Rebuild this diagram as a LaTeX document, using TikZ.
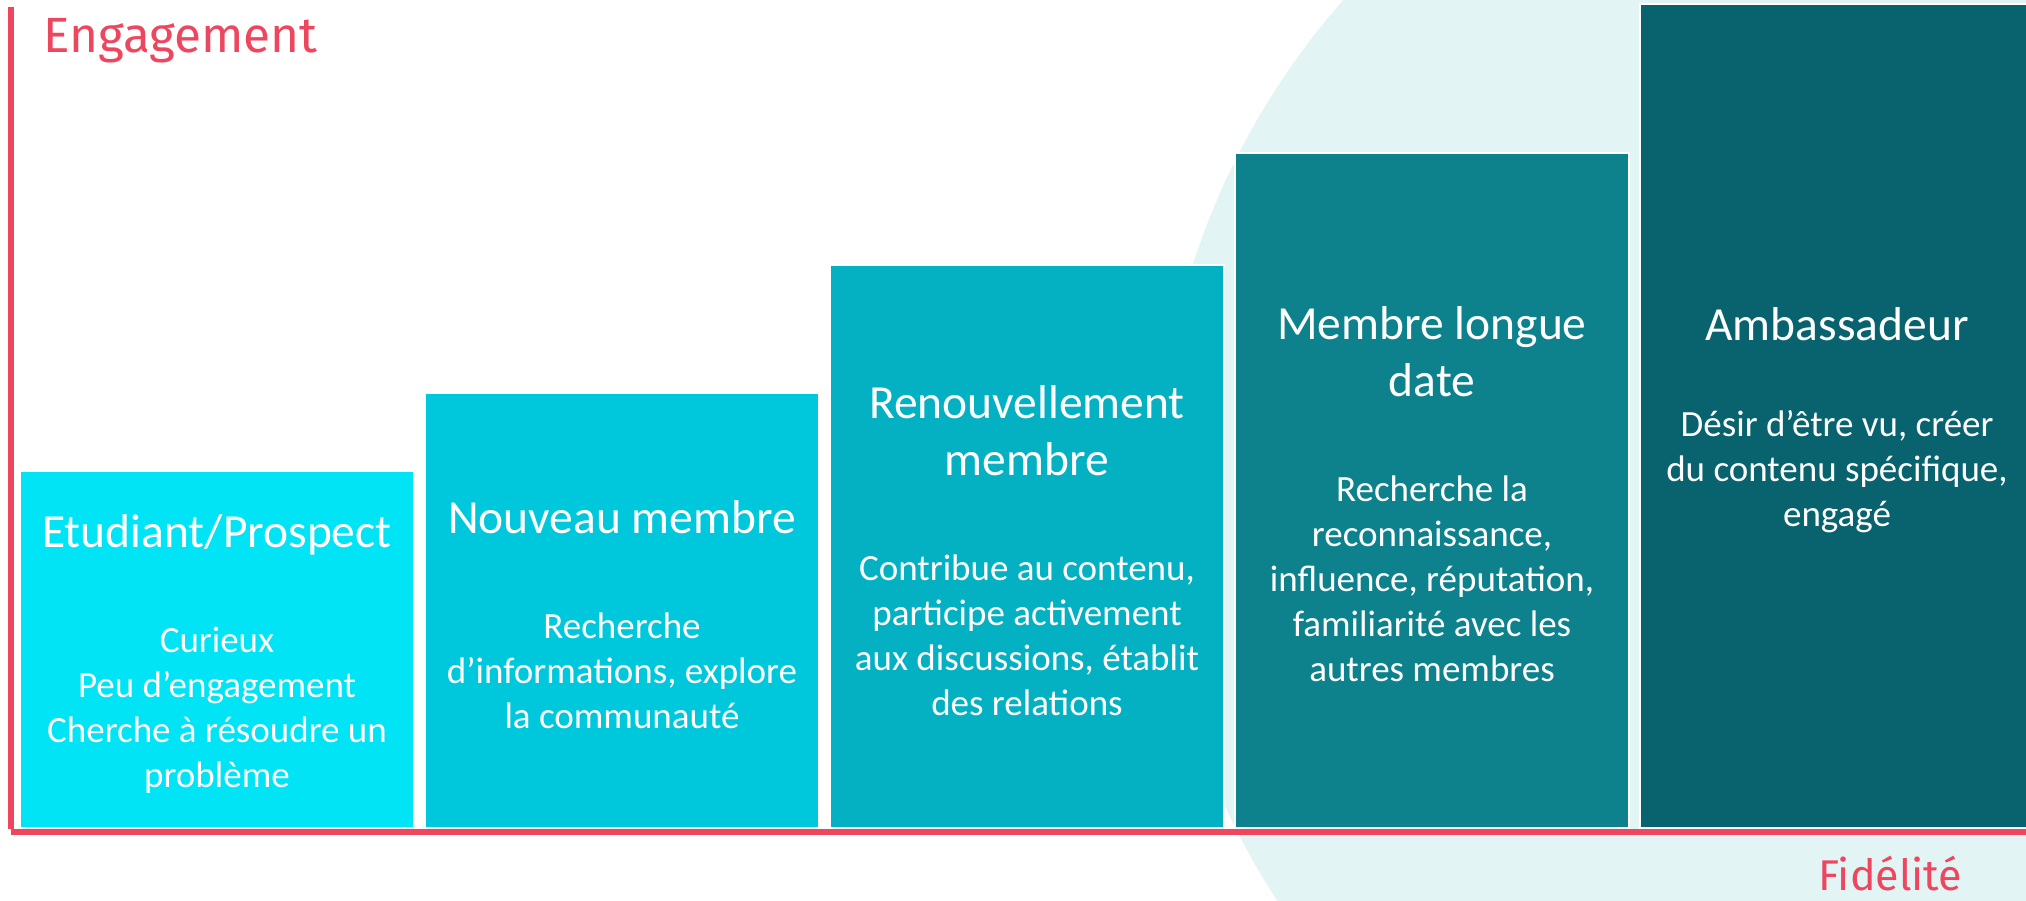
\documentclass[tikz,border=0pt]{standalone}
\usepackage{fontspec}
\setmainfont{Carlito}
\newfontfamily\axisfont{Fira Sans}
\usetikzlibrary{positioning}

\definecolor{axisred}{HTML}{EF4660}
\definecolor{halo}{HTML}{E2F4F4}
\definecolor{stageA}{HTML}{00E4F5}
\definecolor{stageB}{HTML}{00C8DC}
\definecolor{stageC}{HTML}{03B1C3}
\definecolor{stageD}{HTML}{0D828D}
\definecolor{stageE}{HTML}{08636E}

\tikzset{stage/.style={rectangle, draw=white, line width=2.5pt, outer sep=0pt,
		minimum width=394pt, anchor=south west},
	stagetext/.style={text=white, align=center, inner sep=0pt, yshift=-4pt,
		font=\fontsize{37}{45}\selectfont}}
\newcommand{\stagetitle}[1]{{\fontsize{47.5}{57}\selectfont #1}}

\begin{document}
\begin{tikzpicture}[x=1pt,y=-1pt,
	axis/.style={axisred, line width=6pt},
	axislabel/.style={text=axisred, inner sep=0pt}]
	\useasboundingbox (0,0) rectangle (2026,900);
	\fill[white] (0,0) rectangle (2026,900);
	\clip (0,0) rectangle (2026,900);
	
	% light disc behind the last stages
	\fill[halo] (1905,494) circle[radius=748];
	
	% axes
	\coordinate (ytop) at (11,7);
	\coordinate (corner) at (11,832);
	\coordinate (xend) at (2026,832);
	\draw[axis] (ytop) -- ([yshift=3pt]corner);
	\draw[axis] (corner) -- (xend);
	\node[axislabel, font=\axisfont\fontsize{49.5}{50}\selectfont, anchor=base west] (ylabel) at (43,52) {Engagement};
	\node[axislabel, font=\axisfont\fontsize{43}{43}\selectfont, anchor=base west] (xlabel) at (1818,890) {Fidélité};
	
	% stages
	\node[stage, fill=stageA, minimum height=357pt] (b1) at (20,828) {};
	\node[stage, fill=stageB, minimum height=435pt, right=11pt of b1.south east, anchor=south west] (b2) {};
	\node[stage, fill=stageC, minimum height=563pt, right=11pt of b2.south east, anchor=south west] (b3) {};
	\node[stage, fill=stageD, minimum height=675pt, right=11pt of b3.south east, anchor=south west] (b4) {};
	\node[stage, fill=stageE, minimum height=824pt, right=11pt of b4.south east, anchor=south west] (b5) {};
	
	\node[stagetext] (t1) at (b1.center)
	{\stagetitle{Etudiant/Prospect}\\[60pt]Curieux\\Peu d’engagement\\Cherche à résoudre un\\problème};
	\node[stagetext] (t2) at (b2.center)
	{\stagetitle{Nouveau membre}\\[60pt]Recherche\\d’informations, explore\\la communauté};
	\node[stagetext] (t3) at (b3.center)
	{\stagetitle{Renouvellement}\\[12pt]\stagetitle{membre}\\[60pt]Contribue au contenu,\\participe activement\\aux discussions, établit\\des relations};
	\node[stagetext] (t4) at (b4.center)
	{\stagetitle{Membre longue}\\[12pt]\stagetitle{date}\\[60pt]Recherche la\\reconnaissance,\\influence, réputation,\\familiarité avec les\\autres membres};
	\node[stagetext] (t5) at (b5.center)
	{\stagetitle{Ambassadeur}\\[51pt]Désir d’être vu, créer\\du contenu spécifique,\\engagé};
\end{tikzpicture}
\end{document}
